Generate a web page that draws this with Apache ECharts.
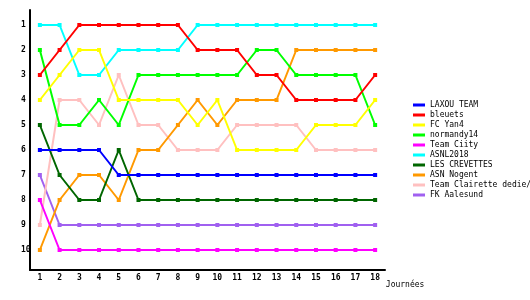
<!DOCTYPE html>
<html><head><meta charset="utf-8">
<script src="https://cdn.jsdelivr.net/npm/echarts@6/dist/echarts.min.js"></script>
<style>html,body{margin:0;padding:0;background:#fff}#c{width:530px;height:300px}</style>
</head><body><div id="c"></div>
<script>
const journees = ['1','2','3','4','5','6','7','8','9','10','11','12','13','14','15','16','17','18'];
const rankLabels = [1,2,3,4,5,6,7,8,9,10];
const teams = ['LAXOU TEAM','bleuets','FC Yan4','normandy14','Team Ciity','ASNL2018','LES CREVETTES','ASN Nogent','Team Clairette dedie/','FK Aalesund'];
const laxou     = [6,6,6,6,7,7,7,7,7,7,7,7,7,7,7,7,7,7];
const bleuets   = [3,2,1,1,1,1,1,1,2,2,2,3,3,4,4,4,4,3];
const fcYan4    = [4,3,2,2,4,4,4,4,5,4,6,6,6,6,5,5,5,4];
const normandy  = [2,5,5,4,5,3,3,3,3,3,3,2,2,3,3,3,3,5];
const ciity     = [8,10,10,10,10,10,10,10,10,10,10,10,10,10,10,10,10,10];
const asnl      = [1,1,3,3,2,2,2,2,1,1,1,1,1,1,1,1,1,1];
const crevettes = [5,7,8,8,6,8,8,8,8,8,8,8,8,8,8,8,8,8];
const nogent    = [10,8,7,7,8,6,6,5,4,5,4,4,4,2,2,2,2,2];
const clairette = [9,4,4,5,3,5,5,6,6,6,5,5,5,5,6,6,6,6];
const aalesund  = [7,9,9,9,9,9,9,9,9,9,9,9,9,9,9,9,9,9];
const seriesData = [laxou,bleuets,fcYan4,normandy,ciity,asnl,crevettes,nogent,clairette,aalesund];
const colors = ['#0000ff','#ff0000','#ffff00','#00ff00','#ff00ff','#00ffff','#006600','#ff9900','#ffc0c0','#a060f0'];
const font = 'DejaVu Sans Mono';
const chart = echarts.init(document.getElementById('c'));
chart.setOption({
  animation:false,
  color:colors,
  textStyle:{fontFamily:font,fontSize:8,color:'#000'},
  grid:{left:30,top:10,right:145,bottom:30,containLabel:false},
  legend:{orient:'vertical',left:408,top:95,itemWidth:12,itemHeight:3,itemGap:0,icon:'rect',
    textStyle:{fontFamily:font,fontSize:8,color:'#000',lineHeight:10},
    data:teams},
  xAxis:{type:'category',data:journees,boundaryGap:true,
    axisLine:{lineStyle:{color:'#000',width:2}},axisTick:{show:false},
    axisLabel:{margin:4,color:'#000',fontFamily:font,fontSize:8,fontWeight:'bold'},
    name:'Journées',nameLocation:'end',nameGap:-10,
    nameTextStyle:{fontFamily:font,fontSize:8,color:'#000',verticalAlign:'top',align:'left',padding:[11,0,0,0]},
    splitLine:{show:false}},
  yAxis:{type:'value',inverse:true,min:0.4,max:10.8,
    axisLine:{show:true,lineStyle:{color:'#000',width:2}},axisTick:{show:false},
    axisLabel:{customValues:rankLabels,margin:9,align:'left',color:'#000',fontFamily:font,fontSize:8,fontWeight:'bold'},
    splitLine:{show:false}},
  series:teams.map((t,i)=>({name:t,type:'line',data:seriesData[i],symbol:'rect',symbolSize:4,
    lineStyle:{width:2,color:colors[i]},itemStyle:{color:colors[i]},z:10-i}))
});
</script></body></html>
